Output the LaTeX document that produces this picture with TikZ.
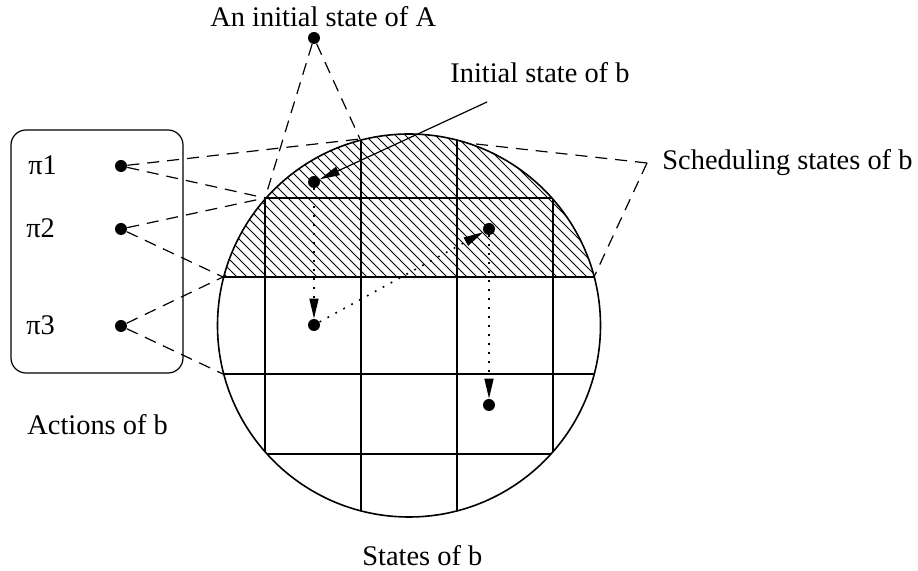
\documentclass[tikz,border=0pt]{standalone}
\usepackage{fontspec}
\setmainfont{Liberation Serif}
\usepackage{tikz}
\usetikzlibrary{
  arrows.meta,
  positioning,
  calc
}

\begin{document}
\begin{tikzpicture}[
  x=0.5pt, y=-0.5pt,
  state/.style={circle, fill=black, inner sep=0pt, minimum size=6pt},
  txt/.style={font=\fontsize{14.2}{17}\selectfont, inner sep=0pt, anchor=base west},
  link/.style={dash pattern=on 6pt off 4pt, line width=0.6pt},
  move/.style={dash pattern=on 0.9pt off 3.6pt, line width=0.8pt, -{Triangle[length=10pt,width=4.5pt]}},
  gridline/.style={line width=0.8pt},
  hatch/.style={line width=0.45pt}
]
  \useasboundingbox (0,0) rectangle (918,571);

  % Scheduling states (hatched cap of the state space)
  \begin{scope}
    \clip (409,325.5) circle[radius=191.5];
    \clip (200,120) rectangle (620,277);
    \foreach \i in {40,50,...,620}
      \draw[hatch] (\i,120) -- ++(170,170);
  \end{scope}

  % State grid
  \begin{scope}
    \clip (409,325.5) circle[radius=191.5];
    \foreach \y in {198,277,374,454}
      \draw[gridline] (200,\y) -- (620,\y);
    \foreach \x in {265,361,457,553}
      \draw[gridline] (\x,120) -- (\x,530);
  \end{scope}
  \draw[gridline] (409,325.5) circle[radius=191.5];

  % Actions box
  \node[draw, line width=0.6pt, rounded corners=7.5pt, minimum width=86pt, minimum height=121.5pt] (acts) at (97,251.5) {};
  \node[txt] (pi1) at (28,175) {π1};
  \node[txt] (pi2) at (26,238) {π2};
  \node[txt] (pi3) at (26,335) {π3};
  \node[state] (p1) at (121,166) {};
  \node[state] (p2) at (121,229) {};
  \node[state] (p3) at (121,326) {};

  % States
  \node[state] (a0) at (314,38) {};
  \node[state] (b0) at (314,182) {};
  \node[state] (b1) at (314,325) {};
  \node[state] (b2) at (489,229) {};
  \node[state] (b3) at (489,405) {};

  % Labels
  \node[txt] (lA) at (210,27) {An initial state of A};
  \node[txt] (lb) at (450,83) {Initial state of b};
  \node[txt] (ls) at (662,170) {Scheduling states of b};
  \node[txt] (la) at (27,435) {Actions of b};
  \node[txt] (lst) at (362,566) {States of b};

  % Corners on the circle
  \coordinate (g1) at (265,198);
  \coordinate (g2) at (360,139);
  \coordinate (g3) at (223,277);
  \coordinate (g4) at (223,374);
  \coordinate (g5) at (594,277);
  \coordinate (g6) at (467,143);
  \coordinate (sp) at (647,163);
  \coordinate (ib) at (487,102);

  % Dashed links
  \draw[link] (a0) -- (g1);
  \draw[link] (a0) -- (g2);
  \draw[link] (p1) -- (g2);
  \draw[link] (p1) -- (g1);
  \draw[link] (p2) -- (g1);
  \draw[link] (p2) -- (g3);
  \draw[link] (p3) -- (g3);
  \draw[link] (p3) -- (g4);
  \draw[link] (sp) -- (g6);
  \draw[link] (sp) -- (g5);

  % Arrows
  \draw[line width=0.6pt, -{Triangle[length=10pt,width=4.5pt]}] (ib) -- (b0);
  \draw[move] (b0) -- (b1);
  \draw[move] (b1) -- (b2);
  \draw[move] (b2) -- (b3);
\end{tikzpicture}
\end{document}
